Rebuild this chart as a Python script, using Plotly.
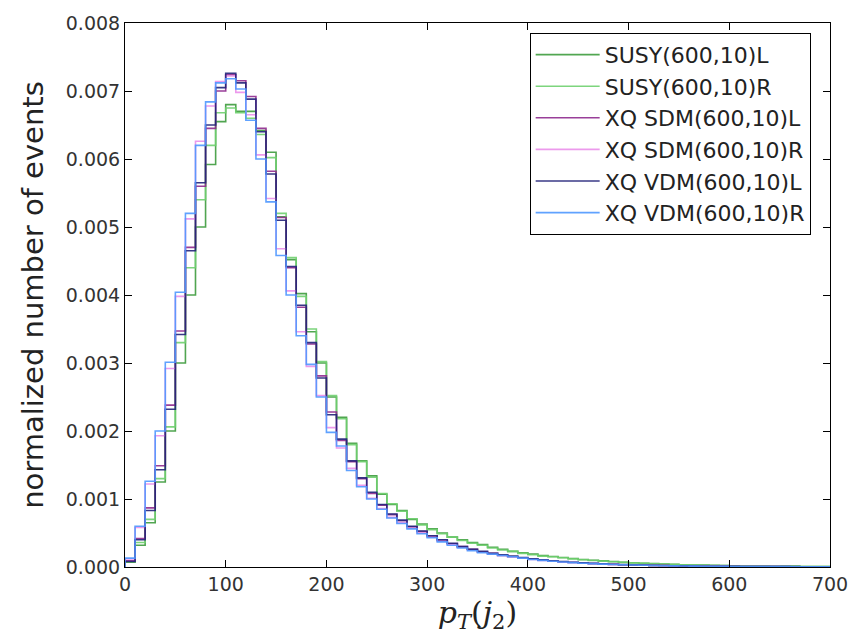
import plotly.graph_objects as go

# bin left edges (GeV), bin width 10
bin_edges = list(range(0, 710, 10))

series_names = ["SUSY(600,10)L", "SUSY(600,10)R", "XQ SDM(600,10)L",
                "XQ SDM(600,10)R", "XQ VDM(600,10)L", "XQ VDM(600,10)R"]

susy_L = [0.00007, 0.00032, 0.00065, 0.00125, 0.00200, 0.00300, 0.00400, 0.00500, 0.00592, 0.00655,
          0.00680, 0.00670, 0.00670, 0.00642, 0.00610, 0.00515, 0.00452, 0.00402, 0.00346, 0.00300,
          0.00250, 0.00220, 0.00182, 0.00156, 0.00134, 0.00107, 0.00092, 0.00083, 0.00070, 0.00063,
          0.00056, 0.00050, 0.00044, 0.00040, 0.00036, 0.00033, 0.00029, 0.00026, 0.00023, 0.00021,
          0.00019, 0.00017, 0.000155, 0.00014, 0.000125, 0.00011, 0.00010, 0.00009, 0.00008, 0.00007,
          0.000062, 0.000055, 0.000049, 0.000043, 0.000038, 0.000034, 0.000030, 0.000027, 0.000024, 0.000021,
          0.000019, 0.000017, 0.000015, 0.000013, 0.000012, 0.000010, 0.000009, 0.000008, 0.000007, 0.000006]

susy_R = [0.00008, 0.00036, 0.00070, 0.00130, 0.00206, 0.00330, 0.00440, 0.00540, 0.00620, 0.00668,
          0.00675, 0.00668, 0.00660, 0.00636, 0.00602, 0.00520, 0.00455, 0.00398, 0.00350, 0.00302,
          0.00252, 0.00218, 0.00180, 0.00155, 0.00132, 0.00108, 0.00093, 0.00082, 0.00071, 0.00062,
          0.00055, 0.00049, 0.00044, 0.00039, 0.00035, 0.00032, 0.00028, 0.00025, 0.00023, 0.00020,
          0.00018, 0.00016, 0.00015, 0.000135, 0.00012, 0.000106, 0.000096, 0.000086, 0.000077, 0.000068,
          0.000060, 0.000053, 0.000047, 0.000042, 0.000037, 0.000033, 0.000029, 0.000026, 0.000023, 0.000021,
          0.000018, 0.000016, 0.000014, 0.000013, 0.000011, 0.000010, 0.000009, 0.000008, 0.000007, 0.000006]

sdm_L = [0.00009, 0.00042, 0.00087, 0.00149, 0.00238, 0.00347, 0.00470, 0.00560, 0.00645, 0.00700,
         0.00724, 0.00715, 0.00692, 0.00645, 0.00582, 0.00514, 0.00440, 0.00382, 0.00328, 0.00281,
         0.00228, 0.00186, 0.00155, 0.00130, 0.00108, 0.00091, 0.00077, 0.00068, 0.00059, 0.00052,
         0.00045, 0.00039, 0.00034, 0.00030, 0.00026, 0.00022, 0.00020, 0.00017, 0.00015, 0.00013,
         0.000115, 0.000100, 0.000088, 0.000077, 0.000067, 0.000058, 0.000051, 0.000045, 0.000039, 0.000034,
         0.000030, 0.000026, 0.000023, 0.000020, 0.000018, 0.000015, 0.000013, 0.000012, 0.000010, 0.000009,
         0.000008, 0.000007, 0.000007, 0.000006, 0.000005, 0.000005, 0.000004, 0.000004, 0.000003, 0.000003]

sdm_R = [0.00012, 0.00058, 0.00122, 0.00193, 0.00292, 0.00398, 0.00512, 0.00626, 0.00678, 0.00714,
         0.00722, 0.00698, 0.00665, 0.00606, 0.00542, 0.00468, 0.00406, 0.00346, 0.00295, 0.00252,
         0.00205, 0.00175, 0.00145, 0.00120, 0.00101, 0.00086, 0.00073, 0.00065, 0.00057, 0.00050,
         0.00044, 0.00038, 0.00033, 0.00029, 0.00025, 0.00022, 0.00019, 0.00017, 0.00015, 0.00013,
         0.000112, 0.000098, 0.000086, 0.000075, 0.000066, 0.000057, 0.000050, 0.000044, 0.000038, 0.000033,
         0.000029, 0.000026, 0.000022, 0.000020, 0.000017, 0.000015, 0.000013, 0.000012, 0.000010, 0.000009,
         0.000008, 0.000007, 0.000006, 0.000006, 0.000005, 0.000004, 0.000004, 0.000004, 0.000003, 0.000003]

vdm_L = [0.00008, 0.00040, 0.00083, 0.00143, 0.00232, 0.00342, 0.00465, 0.00565, 0.00650, 0.00705,
         0.00726, 0.00712, 0.00688, 0.00640, 0.00578, 0.00510, 0.00442, 0.00385, 0.00330, 0.00278,
         0.00224, 0.00188, 0.00156, 0.00131, 0.00110, 0.00092, 0.00078, 0.00069, 0.00060, 0.00053,
         0.00046, 0.00040, 0.00035, 0.00030, 0.00026, 0.00023, 0.00020, 0.00018, 0.00016, 0.00014,
         0.00012, 0.000105, 0.000092, 0.000080, 0.000070, 0.000061, 0.000053, 0.000046, 0.000040, 0.000035,
         0.000031, 0.000027, 0.000024, 0.000021, 0.000018, 0.000016, 0.000014, 0.000012, 0.000011, 0.000010,
         0.000009, 0.000008, 0.000007, 0.000006, 0.000006, 0.000005, 0.000005, 0.000004, 0.000004, 0.000003]

vdm_R = [0.00013, 0.00060, 0.00126, 0.00200, 0.00301, 0.00404, 0.00520, 0.00620, 0.00684, 0.00712,
         0.00718, 0.00703, 0.00657, 0.00600, 0.00537, 0.00458, 0.00400, 0.00340, 0.00298, 0.00250,
         0.00198, 0.00178, 0.00142, 0.00118, 0.00100, 0.00085, 0.00072, 0.00064, 0.00056, 0.00049,
         0.00043, 0.00037, 0.00032, 0.00028, 0.00024, 0.00021, 0.00019, 0.00017, 0.00015, 0.00013,
         0.000110, 0.000097, 0.000085, 0.000074, 0.000065, 0.000056, 0.000049, 0.000043, 0.000037, 0.000033,
         0.000029, 0.000025, 0.000022, 0.000019, 0.000017, 0.000015, 0.000013, 0.000011, 0.000010, 0.000009,
         0.000008, 0.000007, 0.000006, 0.000006, 0.000005, 0.000005, 0.000004, 0.000004, 0.000003, 0.000003]

series_values = [susy_L, susy_R, sdm_L, sdm_R, vdm_L, vdm_R]
series_colors = ["#3e9c3e", "#6fd06f", "#8e2a8e", "#ea8fea", "#23237a", "#4f98ff"]

y_ticks = [0.000, 0.001, 0.002, 0.003, 0.004, 0.005, 0.006, 0.007, 0.008]
x_ticks = [0, 100, 200, 300, 400, 500, 600, 700]

fig = go.Figure()
for name, vals, col in zip(series_names, series_values, series_colors):
    xs = [bin_edges[0]] + bin_edges + [bin_edges[-1]]
    ys = [0] + vals + [vals[-1], 0]
    fig.add_trace(go.Scatter(
        x=xs, y=ys, mode="lines", name=name,
        line=dict(color=col, width=1.6, shape="hv"),
        opacity=0.9,
    ))

axis_common = dict(
    showline=True, linecolor="black", linewidth=1, mirror="allticks",
    ticks="inside", ticklen=7, tickwidth=1, tickcolor="black",
    showgrid=False, zeroline=False,
    tickfont=dict(family="DejaVu Sans", size=19, color="#333333"),
)

fig.update_layout(
    width=860, height=635,
    margin=dict(l=125, r=24, t=20, b=68),
    paper_bgcolor="white", plot_bgcolor="white",
    showlegend=True,
    legend=dict(
        x=0.574, y=0.982, xanchor="left", yanchor="top",
        bordercolor="black", borderwidth=1, bgcolor="white",
        font=dict(family="DejaVu Sans", size=22, color="#222222"),
        itemwidth=64, traceorder="normal",
    ),
    xaxis=dict(axis_common, range=[0, 700], tickvals=x_ticks,
               ticktext=[str(v) for v in x_ticks],
               title=dict(text="<i>p</i><sub><i>T</i></sub>(<i>j</i><sub>2</sub>)",
                          font=dict(family="DejaVu Serif", size=30, color="#222222"),
                          standoff=6)),
    yaxis=dict(axis_common, range=[0, 0.008], tickvals=y_ticks,
               ticktext=[f"{v:.3f}" for v in y_ticks],
               title=dict(text="normalized number of events",
                          font=dict(family="DejaVu Sans", size=29, color="#222222"),
                          standoff=13)),
)

fig.write_html("out.html")
